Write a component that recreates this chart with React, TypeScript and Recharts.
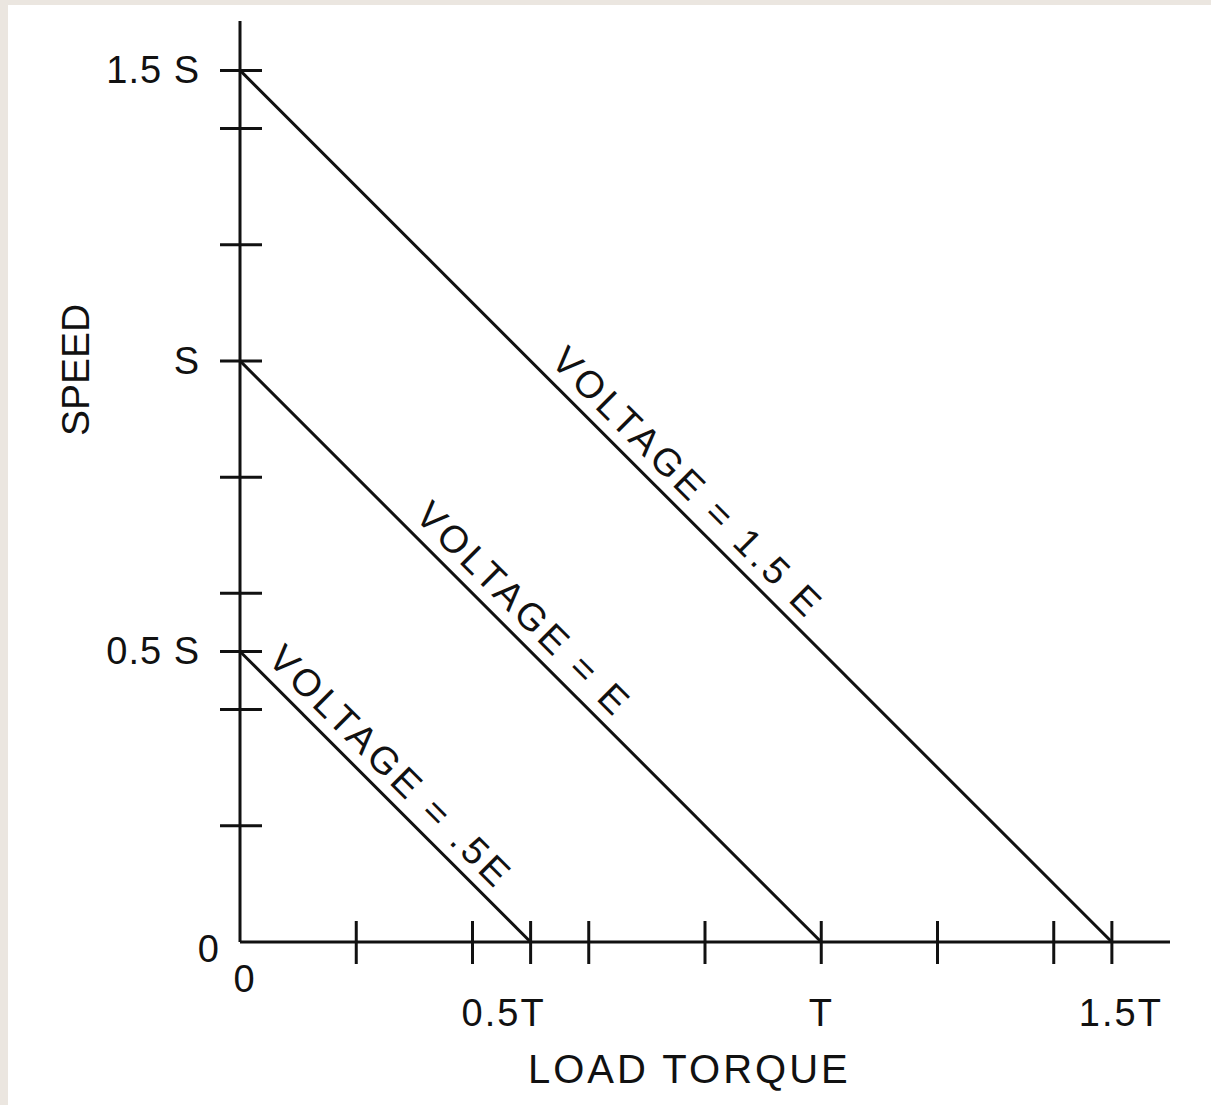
import React from 'react';
import { LineChart, Line, XAxis, YAxis, ReferenceDot } from 'recharts';

// speed vs load torque for three armature voltages (units of S and T)
const LOW_VOLTAGE = [
  { torque: 0, speed: 0.5 },
  { torque: 0.5, speed: 0 },
];
const RATED_VOLTAGE = [
  { torque: 0, speed: 1.0 },
  { torque: 1.0, speed: 0 },
];
const HIGH_VOLTAGE = [
  { torque: 0, speed: 1.5 },
  { torque: 1.5, speed: 0 },
];

const X_TICKS = [0, 0.2, 0.4, 0.5, 0.6, 0.8, 1.0, 1.2, 1.4, 1.5];
const Y_TICKS = [0, 0.2, 0.4, 0.5, 0.6, 0.8, 1.0, 1.2, 1.4, 1.5];

const X_LABELS: Record<string, string> = { '0': '0', '0.5': '0.5T', '1': 'T', '1.5': '1.5T' };
const Y_LABELS: Record<string, string> = { '0': '0', '0.5': '0.5 S', '1': 'S', '1.5': '1.5 S' };

// where each curve label sits (on the line), in data units
const CURVE_LABELS = [
  { text: 'VOLTAGE = .5E', torque: 0.229, speed: 0.271 },
  { text: 'VOLTAGE = E', torque: 0.458, speed: 0.542 },
  { text: 'VOLTAGE = 1.5 E', torque: 0.74, speed: 0.76 },
];

const INK = '#111111';
const FONT = '"Liberation Sans", Arial, sans-serif';

const xLabelShift: Record<string, number> = { '0': 5, '0.5': -27, '1': 0, '1.5': 9 };

const XTick = (props: any) => {
  const { x, y, payload } = props;
  const v = payload.value;
  const label = X_LABELS[String(v)];
  return (
    <g>
      {v !== 0 && <line x1={x} x2={x} y1={y - 21} y2={y + 22} stroke={INK} strokeWidth={3} />}
      {label && (
        <text
          x={x + (xLabelShift[String(v)] || 0)}
          y={v === 0 ? y + 50 : y + 84}
          textAnchor="middle"
          fontFamily={FONT}
          fontSize={38}
          fill={INK}
          letterSpacing={2}
        >
          {label}
        </text>
      )}
    </g>
  );
};

const YTick = (props: any) => {
  const { x, y, payload } = props;
  const v = payload.value;
  const label = Y_LABELS[String(v)];
  return (
    <g>
      {v !== 0 && <line x1={x - 20} x2={x + 22} y1={y} y2={y} stroke={INK} strokeWidth={3} />}
      {label && (
        <text
          x={v === 0 ? x - 20 : x - 40}
          y={v === 0 ? y + 20 : y + 13}
          textAnchor="end"
          fontFamily={FONT}
          fontSize={38}
          fill={INK}
          letterSpacing={1}
        >
          {label}
        </text>
      )}
    </g>
  );
};

const curveLabel = (text: string) => (props: any) => {
  const vb = props.viewBox || {};
  const cx = (vb.x || 0) + (vb.width || 0) / 2;
  const cy = (vb.y || 0) + (vb.height || 0) / 2;
  return (
    <text
      transform={`translate(${cx},${cy}) rotate(45)`}
      x={0}
      y={-12}
      textAnchor="middle"
      fontFamily={FONT}
      fontSize={38}
      letterSpacing={4}
      fill={INK}
    >
      {text}
    </text>
  );
};

export default function App() {
  return (
    <div
      style={{
        position: 'absolute',
        left: 0,
        top: 0,
        width: 1211,
        height: 1105,
        background: '#ebe6e0',
        overflow: 'hidden',
      }}
    >
      <div
        style={{
          position: 'absolute',
          left: 8,
          top: 5,
          width: 1203,
          height: 1100,
          background: '#ffffff',
        }}
      />
      <div style={{ position: 'absolute', left: 0, top: 0 }}>
        <LineChart width={1211} height={1105} margin={{ top: 21, right: 41, bottom: 0, left: 0 }}>
          <XAxis
            type="number"
            dataKey="torque"
            domain={[0, 1.6]}
            ticks={X_TICKS}
            interval={0}
            height={163}
            tickSize={0}
            tickMargin={0}
            tickLine={false}
            tick={XTick}
            axisLine={{ stroke: INK, strokeWidth: 3 }}
            allowDataOverflow
          />
          <YAxis
            type="number"
            dataKey="speed"
            domain={[0, 1.585]}
            ticks={Y_TICKS}
            interval={0}
            width={240}
            tickSize={0}
            tickMargin={0}
            tickLine={false}
            tick={YTick}
            axisLine={{ stroke: INK, strokeWidth: 3 }}
            allowDataOverflow
          />
          <Line data={LOW_VOLTAGE} dataKey="speed" stroke={INK} strokeWidth={3} dot={false} isAnimationActive={false} />
          <Line data={RATED_VOLTAGE} dataKey="speed" stroke={INK} strokeWidth={3} dot={false} isAnimationActive={false} />
          <Line data={HIGH_VOLTAGE} dataKey="speed" stroke={INK} strokeWidth={3} dot={false} isAnimationActive={false} />
          {CURVE_LABELS.map((c) => (
            <ReferenceDot
              key={c.text}
              x={c.torque}
              y={c.speed}
              r={1}
              fill="none"
              stroke="none"
              label={curveLabel(c.text)}
            />
          ))}
        </LineChart>
      </div>
      <div
        style={{
          position: 'absolute',
          left: 528,
          top: 1046,
          fontFamily: FONT,
          fontSize: 40,
          letterSpacing: 3,
          color: INK,
          whiteSpace: 'nowrap',
          lineHeight: '46px',
        }}
      >
        LOAD TORQUE
      </div>
      <div
        style={{
          position: 'absolute',
          left: 76,
          top: 370,
          transform: 'translate(-50%, -50%) rotate(-90deg)',
          fontFamily: FONT,
          fontSize: 39,
          color: INK,
          whiteSpace: 'nowrap',
          lineHeight: '40px',
        }}
      >
        SPEED
      </div>
    </div>
  );
}
